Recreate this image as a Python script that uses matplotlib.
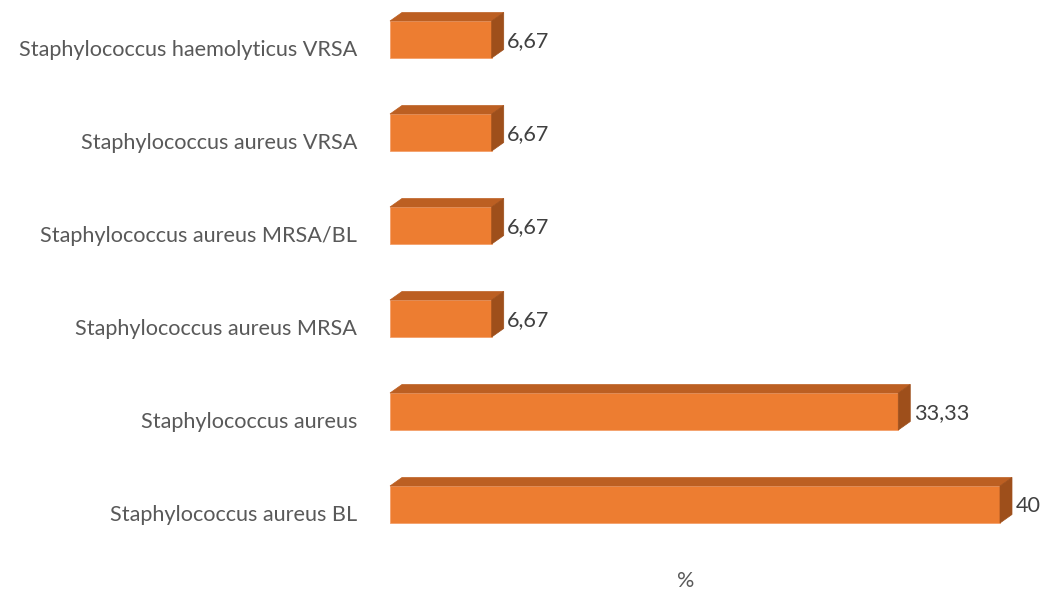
import matplotlib
matplotlib.use("Agg")
import matplotlib.pyplot as plt
from matplotlib.patches import Polygon
from matplotlib.transforms import offset_copy

categories = [
    "Staphylococcus aureus BL",
    "Staphylococcus aureus",
    "Staphylococcus aureus MRSA",
    "Staphylococcus aureus MRSA/BL",
    "Staphylococcus aureus VRSA",
    "Staphylococcus haemolyticus VRSA",
]
values = [40, 33.33, 6.67, 6.67, 6.67, 6.67]
value_labels = ["40", "33,33", "6,67", "6,67", "6,67", "6,67"]
axis_label = "%"

W, H = 1047, 592
fig = plt.figure(figsize=(W / 100, H / 100), dpi=100)
plt.rcParams['font.family'] = ['Lato', 'DejaVu Sans']

# axes: x 0..40 -> pixel 390..1000 ; y center i -> 504.5 - 93 i
x0p, x1p = 390, 1000
ylo, yhi = -0.55, 5.42
ppu_y = 93
c0 = 504.5
bottom_px = c0 + (0 - ylo) * ppu_y
top_px = c0 - (yhi) * ppu_y
ax = fig.add_axes([x0p / W, (H - bottom_px) / H, (x1p - x0p) / W, (bottom_px - top_px) / H])
ax.set_xlim(0, 40)
ax.set_ylim(ylo, yhi)
ax.axis("off")

ppu_x = (x1p - x0p) / 40
bar_h = 37 / ppu_y
dx = 12 / ppu_x
dy = 8.5 / ppu_y

front = "#ED7D31"
topc = "#BC5F22"
sidec = "#9E4F1B"
fs = 15.6

for i, (cat, v, lab) in enumerate(zip(categories, values, value_labels)):
    yb = i - bar_h / 2
    yt = yb + bar_h
    ax.add_patch(Polygon([(0, yb), (v, yb), (v, yt), (0, yt)], closed=True,
                         facecolor=front, edgecolor="#F4A06A", lw=0.6, clip_on=False))
    ax.add_patch(Polygon([(0, yt), (v, yt), (v + dx, yt + dy), (dx, yt + dy)], closed=True,
                         facecolor=topc, edgecolor=topc, lw=0.5, clip_on=False))
    ax.add_patch(Polygon([(v, yb), (v + dx, yb + dy), (v + dx, yt + dy), (v, yt)], closed=True,
                         facecolor=sidec, edgecolor=sidec, lw=0.5, clip_on=False))
    tv = offset_copy(ax.transData, fig=fig, x=0, y=-8, units="dots")
    ax.text(v + dx + 0.22, i, lab, ha="left", va="baseline", transform=tv,
            fontsize=fs, color="#404040", clip_on=False)
    tc = offset_copy(ax.transData, fig=fig, x=0, y=-16.5, units="dots")
    ax.text(-33 / ppu_x, i, cat, ha="right", va="baseline", transform=tc,
            fontsize=fs, color="#595959", clip_on=False)

fig.text(686 / W, 1 - 587 / H, axis_label, ha="center", va="baseline",
         fontsize=fs, color="#595959")

fig.savefig("out.png", dpi=100, facecolor="white")
